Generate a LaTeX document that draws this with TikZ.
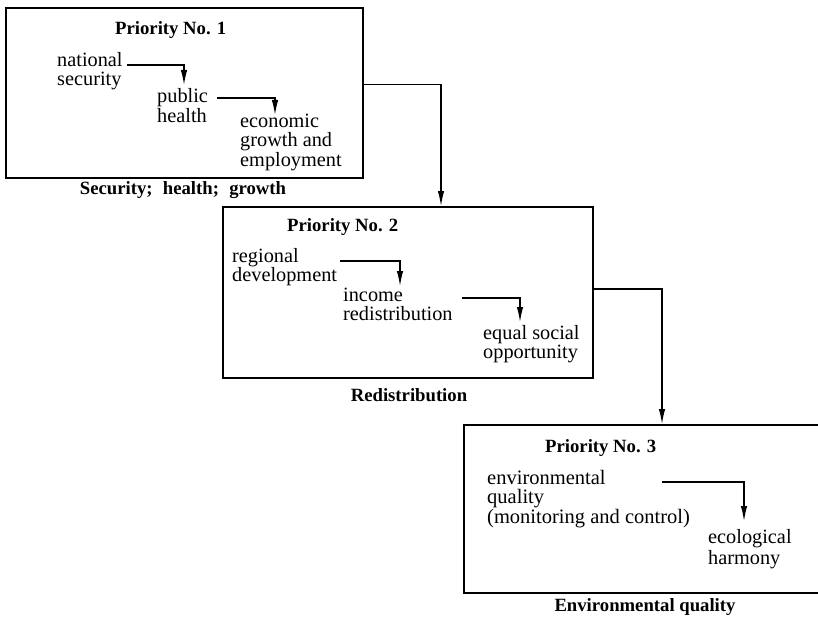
\documentclass[tikz,border=0pt]{standalone}
\usepackage{fontspec}
\setmainfont{Liberation Serif}
\usetikzlibrary{arrows.meta}
\tikzset{
  box/.style={draw, line width=1.7pt, inner sep=0pt, anchor=north west},
  item/.style={inner sep=0pt, anchor=base west, align=left},
  bodyA/.style={font=\fontsize{20.3}{19.3}\selectfont},
  bodyB/.style={font=\fontsize{20.5}{18.5}\selectfont},
  bodyC/.style={font=\fontsize{20.3}{21}\selectfont},
  ttl/.style={inner sep=0pt, anchor=base west, font=\bfseries\fontsize{18.7}{18.7}\selectfont},
  caption/.style={inner sep=0pt, anchor=base, font=\bfseries\fontsize{18.7}{18.7}\selectfont},
  link/.style={line width=1.3pt, -{Latex[length=15pt,width=6.5pt]}},
}
\begin{document}
\begin{tikzpicture}[x=1pt,y=-1pt]
\useasboundingbox (0,0) rectangle (818,623);
\fill[white] (0,0) rectangle (818,623);

% boxes
\node[box, minimum width=357pt, minimum height=170pt] (b1) at (5,7) {};
\node[box, minimum width=370pt, minimum height=171pt] (b2) at (222,206) {};
\node[box, minimum width=367pt, minimum height=168pt] (b3) at (463,424) {};

% box 1 (multi-line texts are placed by the baseline of their last line)
\node[ttl] (t1) at (115,35) {Priority No. 1};
\node[item, bodyA] (ns) at (57,86) {national\\security};
\node[item, bodyA] (ph) at (157,122) {public\\health};
\node[item, bodyA] (eg) at (240,166) {economic\\growth and\\employment};
\node[caption] (c1) at (183,194) {Security;\hspace{0.55em}health;\hspace{0.55em}growth};

% box 2
\node[ttl] (t2) at (287,231) {Priority No. 2};
\node[item, bodyA] (rd) at (232,281.5) {regional\\development};
\node[item, bodyA] (ir) at (343,320.5) {income\\redistribution};
\node[item, bodyA] (eq) at (483,358.5) {equal social\\opportunity};
\node[caption] (c2) at (409,401) {Redistribution};

% box 3
\node[ttl] (t3) at (545,452) {Priority No. 3};
\node[item, bodyB] (ev) at (487,523) {environmental\\quality\\(monitoring and control)};
\node[item, bodyC] (ec) at (708,564) {ecological\\harmony};
\node[caption] (c3) at (645,611) {Environmental quality};

% inner connector points
\coordinate (a1s) at (127,65);  \coordinate (a1e) at (184,85);
\coordinate (a2s) at (217,98);  \coordinate (a2e) at (275,115);
\coordinate (a3s) at (340,261); \coordinate (a3e) at (400,286);
\coordinate (a4s) at (462,298); \coordinate (a4e) at (520,322);
\coordinate (a5s) at (662,482); \coordinate (a5e) at (744,521);

\draw[link] (a1s) -| (a1e);
\draw[link] (a2s) -| (a2e);
\draw[link] (a3s) -| (a3e);
\draw[link] (a4s) -| (a4e);
\draw[link] (a5s) -| (a5e);

% box-to-box connectors
\draw[link] ([yshift=8pt]b1.east) -| ([xshift=219pt]b2.north west);
\draw[link] ([yshift=3.5pt]b2.east) -| ([xshift=199pt]b3.north west);
\end{tikzpicture}
\end{document}
